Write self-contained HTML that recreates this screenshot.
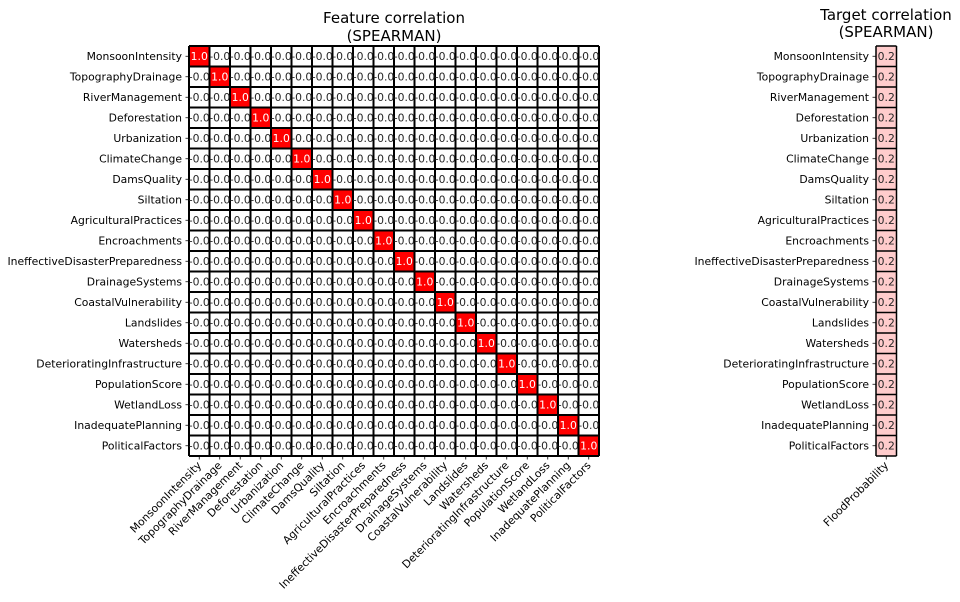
<!DOCTYPE html>
<html><head><meta charset="utf-8"><style>
html,body{margin:0;padding:0;background:#fff;}
svg{display:block;font-family:"DejaVu Sans","Liberation Sans",sans-serif;}
.c{font-size:10.8px;text-anchor:middle;fill:#262626;}
.l{font-size:10.8px;text-anchor:end;fill:#000;}
.t{font-size:15px;text-anchor:middle;fill:#000;}
</style></head><body>
<svg width="960" height="602" viewBox="0 0 960 602" xmlns="http://www.w3.org/2000/svg">
<text class="t" x="394" y="23">Feature correlation</text>
<text class="t" x="394" y="41">(SPEARMAN)</text>
<text class="t" x="886" y="20">Target correlation</text>
<text class="t" x="886" y="37">(SPEARMAN)</text>

<rect x="189" y="46" width="410" height="410" fill="#fefefe"/>
<g fill="#ff0000">
<rect x="189" y="46" width="20.5" height="20.5"/><rect x="209.5" y="66.5" width="20.5" height="20.5"/><rect x="230" y="87" width="20.5" height="20.5"/><rect x="250.5" y="107.5" width="20.5" height="20.5"/><rect x="271" y="128" width="20.5" height="20.5"/><rect x="291.5" y="148.5" width="20.5" height="20.5"/><rect x="312" y="169" width="20.5" height="20.5"/><rect x="332.5" y="189.5" width="20.5" height="20.5"/><rect x="353" y="210" width="20.5" height="20.5"/><rect x="373.5" y="230.5" width="20.5" height="20.5"/><rect x="394" y="251" width="20.5" height="20.5"/><rect x="414.5" y="271.5" width="20.5" height="20.5"/><rect x="435" y="292" width="20.5" height="20.5"/><rect x="455.5" y="312.5" width="20.5" height="20.5"/><rect x="476" y="333" width="20.5" height="20.5"/><rect x="496.5" y="353.5" width="20.5" height="20.5"/><rect x="517" y="374" width="20.5" height="20.5"/><rect x="537.5" y="394.5" width="20.5" height="20.5"/><rect x="558" y="415" width="20.5" height="20.5"/><rect x="578.5" y="435.5" width="20.5" height="20.5"/>
</g>
<g stroke="#000" stroke-width="2">
<path d="M189 46V456M209.5 46V456M230 46V456M250.5 46V456M271 46V456M291.5 46V456M312 46V456M332.5 46V456M353 46V456M373.5 46V456M394 46V456M414.5 46V456M435 46V456M455.5 46V456M476 46V456M496.5 46V456M517 46V456M537.5 46V456M558 46V456M578.5 46V456M599 46V456"/>
<path d="M189 46H599M189 66.5H599M189 87H599M189 107.5H599M189 128H599M189 148.5H599M189 169H599M189 189.5H599M189 210H599M189 230.5H599M189 251H599M189 271.5H599M189 292H599M189 312.5H599M189 333H599M189 353.5H599M189 374H599M189 394.5H599M189 415H599M189 435.5H599M189 456H599"/>
</g>
<g stroke="#000" stroke-width="0.8">
<path d="M185.5 56.25H189M185.5 76.75H189M185.5 97.25H189M185.5 117.75H189M185.5 138.25H189M185.5 158.75H189M185.5 179.25H189M185.5 199.75H189M185.5 220.25H189M185.5 240.75H189M185.5 261.25H189M185.5 281.75H189M185.5 302.25H189M185.5 322.75H189M185.5 343.25H189M185.5 363.75H189M185.5 384.25H189M185.5 404.75H189M185.5 425.25H189M185.5 445.75H189"/>
<path d="M199.25 456V459.5M219.75 456V459.5M240.25 456V459.5M260.75 456V459.5M281.25 456V459.5M301.75 456V459.5M322.25 456V459.5M342.75 456V459.5M363.25 456V459.5M383.75 456V459.5M404.25 456V459.5M424.75 456V459.5M445.25 456V459.5M465.75 456V459.5M486.25 456V459.5M506.75 456V459.5M527.25 456V459.5M547.75 456V459.5M568.25 456V459.5M588.75 456V459.5"/>
</g>

<g class="l">
<text x="182" y="60">MonsoonIntensity</text>
<text x="182" y="80.5">TopographyDrainage</text>
<text x="182" y="101">RiverManagement</text>
<text x="182" y="121.5">Deforestation</text>
<text x="182" y="142">Urbanization</text>
<text x="182" y="162.5">ClimateChange</text>
<text x="182" y="183">DamsQuality</text>
<text x="182" y="203.5">Siltation</text>
<text x="182" y="224">AgriculturalPractices</text>
<text x="182" y="244.5">Encroachments</text>
<text x="182" y="265">IneffectiveDisasterPreparedness</text>
<text x="182" y="285.5">DrainageSystems</text>
<text x="182" y="306">CoastalVulnerability</text>
<text x="182" y="326.5">Landslides</text>
<text x="182" y="347">Watersheds</text>
<text x="182" y="367.5">DeterioratingInfrastructure</text>
<text x="182" y="388">PopulationScore</text>
<text x="182" y="408.5">WetlandLoss</text>
<text x="182" y="429">InadequatePlanning</text>
<text x="182" y="449.5">PoliticalFactors</text>
</g>

<g class="l">
<text transform="translate(202,466) rotate(-45)">MonsoonIntensity</text>
<text transform="translate(222.5,466) rotate(-45)">TopographyDrainage</text>
<text transform="translate(243,466) rotate(-45)">RiverManagement</text>
<text transform="translate(263.5,466) rotate(-45)">Deforestation</text>
<text transform="translate(284,466) rotate(-45)">Urbanization</text>
<text transform="translate(304.5,466) rotate(-45)">ClimateChange</text>
<text transform="translate(325,466) rotate(-45)">DamsQuality</text>
<text transform="translate(345.5,466) rotate(-45)">Siltation</text>
<text transform="translate(366,466) rotate(-45)">AgriculturalPractices</text>
<text transform="translate(386.5,466) rotate(-45)">Encroachments</text>
<text transform="translate(407,466) rotate(-45)">IneffectiveDisasterPreparedness</text>
<text transform="translate(427.5,466) rotate(-45)">DrainageSystems</text>
<text transform="translate(448,466) rotate(-45)">CoastalVulnerability</text>
<text transform="translate(468.5,466) rotate(-45)">Landslides</text>
<text transform="translate(489,466) rotate(-45)">Watersheds</text>
<text transform="translate(509.5,466) rotate(-45)">DeterioratingInfrastructure</text>
<text transform="translate(530,466) rotate(-45)">PopulationScore</text>
<text transform="translate(550.5,466) rotate(-45)">WetlandLoss</text>
<text transform="translate(571,466) rotate(-45)">InadequatePlanning</text>
<text transform="translate(591.5,466) rotate(-45)">PoliticalFactors</text>
</g>

<g class="c">
<text y="60"><tspan x="199.25" fill="#fff">1.0</tspan><tspan x="219.75">-0.0</tspan><tspan x="240.25">-0.0</tspan><tspan x="260.75">-0.0</tspan><tspan x="281.25">-0.0</tspan><tspan x="301.75">-0.0</tspan><tspan x="322.25">-0.0</tspan><tspan x="342.75">-0.0</tspan><tspan x="363.25">-0.0</tspan><tspan x="383.75">-0.0</tspan><tspan x="404.25">-0.0</tspan><tspan x="424.75">-0.0</tspan><tspan x="445.25">-0.0</tspan><tspan x="465.75">-0.0</tspan><tspan x="486.25">-0.0</tspan><tspan x="506.75">-0.0</tspan><tspan x="527.25">-0.0</tspan><tspan x="547.75">-0.0</tspan><tspan x="568.25">-0.0</tspan><tspan x="588.75">-0.0</tspan></text>
<text y="80.5"><tspan x="199.25">-0.0</tspan><tspan x="219.75" fill="#fff">1.0</tspan><tspan x="240.25">-0.0</tspan><tspan x="260.75">-0.0</tspan><tspan x="281.25">-0.0</tspan><tspan x="301.75">-0.0</tspan><tspan x="322.25">-0.0</tspan><tspan x="342.75">-0.0</tspan><tspan x="363.25">-0.0</tspan><tspan x="383.75">-0.0</tspan><tspan x="404.25">-0.0</tspan><tspan x="424.75">-0.0</tspan><tspan x="445.25">-0.0</tspan><tspan x="465.75">-0.0</tspan><tspan x="486.25">-0.0</tspan><tspan x="506.75">-0.0</tspan><tspan x="527.25">-0.0</tspan><tspan x="547.75">-0.0</tspan><tspan x="568.25">-0.0</tspan><tspan x="588.75">-0.0</tspan></text>
<text y="101"><tspan x="199.25">-0.0</tspan><tspan x="219.75">-0.0</tspan><tspan x="240.25" fill="#fff">1.0</tspan><tspan x="260.75">-0.0</tspan><tspan x="281.25">-0.0</tspan><tspan x="301.75">-0.0</tspan><tspan x="322.25">-0.0</tspan><tspan x="342.75">-0.0</tspan><tspan x="363.25">-0.0</tspan><tspan x="383.75">-0.0</tspan><tspan x="404.25">-0.0</tspan><tspan x="424.75">-0.0</tspan><tspan x="445.25">-0.0</tspan><tspan x="465.75">-0.0</tspan><tspan x="486.25">-0.0</tspan><tspan x="506.75">-0.0</tspan><tspan x="527.25">-0.0</tspan><tspan x="547.75">-0.0</tspan><tspan x="568.25">-0.0</tspan><tspan x="588.75">-0.0</tspan></text>
<text y="121.5"><tspan x="199.25">-0.0</tspan><tspan x="219.75">-0.0</tspan><tspan x="240.25">-0.0</tspan><tspan x="260.75" fill="#fff">1.0</tspan><tspan x="281.25">-0.0</tspan><tspan x="301.75">-0.0</tspan><tspan x="322.25">-0.0</tspan><tspan x="342.75">-0.0</tspan><tspan x="363.25">-0.0</tspan><tspan x="383.75">-0.0</tspan><tspan x="404.25">-0.0</tspan><tspan x="424.75">-0.0</tspan><tspan x="445.25">-0.0</tspan><tspan x="465.75">-0.0</tspan><tspan x="486.25">-0.0</tspan><tspan x="506.75">-0.0</tspan><tspan x="527.25">-0.0</tspan><tspan x="547.75">-0.0</tspan><tspan x="568.25">-0.0</tspan><tspan x="588.75">-0.0</tspan></text>
<text y="142"><tspan x="199.25">-0.0</tspan><tspan x="219.75">-0.0</tspan><tspan x="240.25">-0.0</tspan><tspan x="260.75">-0.0</tspan><tspan x="281.25" fill="#fff">1.0</tspan><tspan x="301.75">-0.0</tspan><tspan x="322.25">-0.0</tspan><tspan x="342.75">-0.0</tspan><tspan x="363.25">-0.0</tspan><tspan x="383.75">-0.0</tspan><tspan x="404.25">-0.0</tspan><tspan x="424.75">-0.0</tspan><tspan x="445.25">-0.0</tspan><tspan x="465.75">-0.0</tspan><tspan x="486.25">-0.0</tspan><tspan x="506.75">-0.0</tspan><tspan x="527.25">-0.0</tspan><tspan x="547.75">-0.0</tspan><tspan x="568.25">-0.0</tspan><tspan x="588.75">-0.0</tspan></text>
<text y="162.5"><tspan x="199.25">-0.0</tspan><tspan x="219.75">-0.0</tspan><tspan x="240.25">-0.0</tspan><tspan x="260.75">-0.0</tspan><tspan x="281.25">-0.0</tspan><tspan x="301.75" fill="#fff">1.0</tspan><tspan x="322.25">-0.0</tspan><tspan x="342.75">-0.0</tspan><tspan x="363.25">-0.0</tspan><tspan x="383.75">-0.0</tspan><tspan x="404.25">-0.0</tspan><tspan x="424.75">-0.0</tspan><tspan x="445.25">-0.0</tspan><tspan x="465.75">-0.0</tspan><tspan x="486.25">-0.0</tspan><tspan x="506.75">-0.0</tspan><tspan x="527.25">-0.0</tspan><tspan x="547.75">-0.0</tspan><tspan x="568.25">-0.0</tspan><tspan x="588.75">-0.0</tspan></text>
<text y="183"><tspan x="199.25">-0.0</tspan><tspan x="219.75">-0.0</tspan><tspan x="240.25">-0.0</tspan><tspan x="260.75">-0.0</tspan><tspan x="281.25">-0.0</tspan><tspan x="301.75">-0.0</tspan><tspan x="322.25" fill="#fff">1.0</tspan><tspan x="342.75">-0.0</tspan><tspan x="363.25">-0.0</tspan><tspan x="383.75">-0.0</tspan><tspan x="404.25">-0.0</tspan><tspan x="424.75">-0.0</tspan><tspan x="445.25">-0.0</tspan><tspan x="465.75">-0.0</tspan><tspan x="486.25">-0.0</tspan><tspan x="506.75">-0.0</tspan><tspan x="527.25">-0.0</tspan><tspan x="547.75">-0.0</tspan><tspan x="568.25">-0.0</tspan><tspan x="588.75">-0.0</tspan></text>
<text y="203.5"><tspan x="199.25">-0.0</tspan><tspan x="219.75">-0.0</tspan><tspan x="240.25">-0.0</tspan><tspan x="260.75">-0.0</tspan><tspan x="281.25">-0.0</tspan><tspan x="301.75">-0.0</tspan><tspan x="322.25">-0.0</tspan><tspan x="342.75" fill="#fff">1.0</tspan><tspan x="363.25">-0.0</tspan><tspan x="383.75">-0.0</tspan><tspan x="404.25">-0.0</tspan><tspan x="424.75">-0.0</tspan><tspan x="445.25">-0.0</tspan><tspan x="465.75">-0.0</tspan><tspan x="486.25">-0.0</tspan><tspan x="506.75">-0.0</tspan><tspan x="527.25">-0.0</tspan><tspan x="547.75">-0.0</tspan><tspan x="568.25">-0.0</tspan><tspan x="588.75">-0.0</tspan></text>
<text y="224"><tspan x="199.25">-0.0</tspan><tspan x="219.75">-0.0</tspan><tspan x="240.25">-0.0</tspan><tspan x="260.75">-0.0</tspan><tspan x="281.25">-0.0</tspan><tspan x="301.75">-0.0</tspan><tspan x="322.25">-0.0</tspan><tspan x="342.75">-0.0</tspan><tspan x="363.25" fill="#fff">1.0</tspan><tspan x="383.75">-0.0</tspan><tspan x="404.25">-0.0</tspan><tspan x="424.75">-0.0</tspan><tspan x="445.25">-0.0</tspan><tspan x="465.75">-0.0</tspan><tspan x="486.25">-0.0</tspan><tspan x="506.75">-0.0</tspan><tspan x="527.25">-0.0</tspan><tspan x="547.75">-0.0</tspan><tspan x="568.25">-0.0</tspan><tspan x="588.75">-0.0</tspan></text>
<text y="244.5"><tspan x="199.25">-0.0</tspan><tspan x="219.75">-0.0</tspan><tspan x="240.25">-0.0</tspan><tspan x="260.75">-0.0</tspan><tspan x="281.25">-0.0</tspan><tspan x="301.75">-0.0</tspan><tspan x="322.25">-0.0</tspan><tspan x="342.75">-0.0</tspan><tspan x="363.25">-0.0</tspan><tspan x="383.75" fill="#fff">1.0</tspan><tspan x="404.25">-0.0</tspan><tspan x="424.75">-0.0</tspan><tspan x="445.25">-0.0</tspan><tspan x="465.75">-0.0</tspan><tspan x="486.25">-0.0</tspan><tspan x="506.75">-0.0</tspan><tspan x="527.25">-0.0</tspan><tspan x="547.75">-0.0</tspan><tspan x="568.25">-0.0</tspan><tspan x="588.75">-0.0</tspan></text>
<text y="265"><tspan x="199.25">-0.0</tspan><tspan x="219.75">-0.0</tspan><tspan x="240.25">-0.0</tspan><tspan x="260.75">-0.0</tspan><tspan x="281.25">-0.0</tspan><tspan x="301.75">-0.0</tspan><tspan x="322.25">-0.0</tspan><tspan x="342.75">-0.0</tspan><tspan x="363.25">-0.0</tspan><tspan x="383.75">-0.0</tspan><tspan x="404.25" fill="#fff">1.0</tspan><tspan x="424.75">-0.0</tspan><tspan x="445.25">-0.0</tspan><tspan x="465.75">-0.0</tspan><tspan x="486.25">-0.0</tspan><tspan x="506.75">-0.0</tspan><tspan x="527.25">-0.0</tspan><tspan x="547.75">-0.0</tspan><tspan x="568.25">-0.0</tspan><tspan x="588.75">-0.0</tspan></text>
<text y="285.5"><tspan x="199.25">-0.0</tspan><tspan x="219.75">-0.0</tspan><tspan x="240.25">-0.0</tspan><tspan x="260.75">-0.0</tspan><tspan x="281.25">-0.0</tspan><tspan x="301.75">-0.0</tspan><tspan x="322.25">-0.0</tspan><tspan x="342.75">-0.0</tspan><tspan x="363.25">-0.0</tspan><tspan x="383.75">-0.0</tspan><tspan x="404.25">-0.0</tspan><tspan x="424.75" fill="#fff">1.0</tspan><tspan x="445.25">-0.0</tspan><tspan x="465.75">-0.0</tspan><tspan x="486.25">-0.0</tspan><tspan x="506.75">-0.0</tspan><tspan x="527.25">-0.0</tspan><tspan x="547.75">-0.0</tspan><tspan x="568.25">-0.0</tspan><tspan x="588.75">-0.0</tspan></text>
<text y="306"><tspan x="199.25">-0.0</tspan><tspan x="219.75">-0.0</tspan><tspan x="240.25">-0.0</tspan><tspan x="260.75">-0.0</tspan><tspan x="281.25">-0.0</tspan><tspan x="301.75">-0.0</tspan><tspan x="322.25">-0.0</tspan><tspan x="342.75">-0.0</tspan><tspan x="363.25">-0.0</tspan><tspan x="383.75">-0.0</tspan><tspan x="404.25">-0.0</tspan><tspan x="424.75">-0.0</tspan><tspan x="445.25" fill="#fff">1.0</tspan><tspan x="465.75">-0.0</tspan><tspan x="486.25">-0.0</tspan><tspan x="506.75">-0.0</tspan><tspan x="527.25">-0.0</tspan><tspan x="547.75">-0.0</tspan><tspan x="568.25">-0.0</tspan><tspan x="588.75">-0.0</tspan></text>
<text y="326.5"><tspan x="199.25">-0.0</tspan><tspan x="219.75">-0.0</tspan><tspan x="240.25">-0.0</tspan><tspan x="260.75">-0.0</tspan><tspan x="281.25">-0.0</tspan><tspan x="301.75">-0.0</tspan><tspan x="322.25">-0.0</tspan><tspan x="342.75">-0.0</tspan><tspan x="363.25">-0.0</tspan><tspan x="383.75">-0.0</tspan><tspan x="404.25">-0.0</tspan><tspan x="424.75">-0.0</tspan><tspan x="445.25">-0.0</tspan><tspan x="465.75" fill="#fff">1.0</tspan><tspan x="486.25">-0.0</tspan><tspan x="506.75">-0.0</tspan><tspan x="527.25">-0.0</tspan><tspan x="547.75">-0.0</tspan><tspan x="568.25">-0.0</tspan><tspan x="588.75">-0.0</tspan></text>
<text y="347"><tspan x="199.25">-0.0</tspan><tspan x="219.75">-0.0</tspan><tspan x="240.25">-0.0</tspan><tspan x="260.75">-0.0</tspan><tspan x="281.25">-0.0</tspan><tspan x="301.75">-0.0</tspan><tspan x="322.25">-0.0</tspan><tspan x="342.75">-0.0</tspan><tspan x="363.25">-0.0</tspan><tspan x="383.75">-0.0</tspan><tspan x="404.25">-0.0</tspan><tspan x="424.75">-0.0</tspan><tspan x="445.25">-0.0</tspan><tspan x="465.75">-0.0</tspan><tspan x="486.25" fill="#fff">1.0</tspan><tspan x="506.75">-0.0</tspan><tspan x="527.25">-0.0</tspan><tspan x="547.75">-0.0</tspan><tspan x="568.25">-0.0</tspan><tspan x="588.75">-0.0</tspan></text>
<text y="367.5"><tspan x="199.25">-0.0</tspan><tspan x="219.75">-0.0</tspan><tspan x="240.25">-0.0</tspan><tspan x="260.75">-0.0</tspan><tspan x="281.25">-0.0</tspan><tspan x="301.75">-0.0</tspan><tspan x="322.25">-0.0</tspan><tspan x="342.75">-0.0</tspan><tspan x="363.25">-0.0</tspan><tspan x="383.75">-0.0</tspan><tspan x="404.25">-0.0</tspan><tspan x="424.75">-0.0</tspan><tspan x="445.25">-0.0</tspan><tspan x="465.75">-0.0</tspan><tspan x="486.25">-0.0</tspan><tspan x="506.75" fill="#fff">1.0</tspan><tspan x="527.25">-0.0</tspan><tspan x="547.75">-0.0</tspan><tspan x="568.25">-0.0</tspan><tspan x="588.75">-0.0</tspan></text>
<text y="388"><tspan x="199.25">-0.0</tspan><tspan x="219.75">-0.0</tspan><tspan x="240.25">-0.0</tspan><tspan x="260.75">-0.0</tspan><tspan x="281.25">-0.0</tspan><tspan x="301.75">-0.0</tspan><tspan x="322.25">-0.0</tspan><tspan x="342.75">-0.0</tspan><tspan x="363.25">-0.0</tspan><tspan x="383.75">-0.0</tspan><tspan x="404.25">-0.0</tspan><tspan x="424.75">-0.0</tspan><tspan x="445.25">-0.0</tspan><tspan x="465.75">-0.0</tspan><tspan x="486.25">-0.0</tspan><tspan x="506.75">-0.0</tspan><tspan x="527.25" fill="#fff">1.0</tspan><tspan x="547.75">-0.0</tspan><tspan x="568.25">-0.0</tspan><tspan x="588.75">-0.0</tspan></text>
<text y="408.5"><tspan x="199.25">-0.0</tspan><tspan x="219.75">-0.0</tspan><tspan x="240.25">-0.0</tspan><tspan x="260.75">-0.0</tspan><tspan x="281.25">-0.0</tspan><tspan x="301.75">-0.0</tspan><tspan x="322.25">-0.0</tspan><tspan x="342.75">-0.0</tspan><tspan x="363.25">-0.0</tspan><tspan x="383.75">-0.0</tspan><tspan x="404.25">-0.0</tspan><tspan x="424.75">-0.0</tspan><tspan x="445.25">-0.0</tspan><tspan x="465.75">-0.0</tspan><tspan x="486.25">-0.0</tspan><tspan x="506.75">-0.0</tspan><tspan x="527.25">-0.0</tspan><tspan x="547.75" fill="#fff">1.0</tspan><tspan x="568.25">-0.0</tspan><tspan x="588.75">-0.0</tspan></text>
<text y="429"><tspan x="199.25">-0.0</tspan><tspan x="219.75">-0.0</tspan><tspan x="240.25">-0.0</tspan><tspan x="260.75">-0.0</tspan><tspan x="281.25">-0.0</tspan><tspan x="301.75">-0.0</tspan><tspan x="322.25">-0.0</tspan><tspan x="342.75">-0.0</tspan><tspan x="363.25">-0.0</tspan><tspan x="383.75">-0.0</tspan><tspan x="404.25">-0.0</tspan><tspan x="424.75">-0.0</tspan><tspan x="445.25">-0.0</tspan><tspan x="465.75">-0.0</tspan><tspan x="486.25">-0.0</tspan><tspan x="506.75">-0.0</tspan><tspan x="527.25">-0.0</tspan><tspan x="547.75">-0.0</tspan><tspan x="568.25" fill="#fff">1.0</tspan><tspan x="588.75">-0.0</tspan></text>
<text y="449.5"><tspan x="199.25">-0.0</tspan><tspan x="219.75">-0.0</tspan><tspan x="240.25">-0.0</tspan><tspan x="260.75">-0.0</tspan><tspan x="281.25">-0.0</tspan><tspan x="301.75">-0.0</tspan><tspan x="322.25">-0.0</tspan><tspan x="342.75">-0.0</tspan><tspan x="363.25">-0.0</tspan><tspan x="383.75">-0.0</tspan><tspan x="404.25">-0.0</tspan><tspan x="424.75">-0.0</tspan><tspan x="445.25">-0.0</tspan><tspan x="465.75">-0.0</tspan><tspan x="486.25">-0.0</tspan><tspan x="506.75">-0.0</tspan><tspan x="527.25">-0.0</tspan><tspan x="547.75">-0.0</tspan><tspan x="568.25">-0.0</tspan><tspan x="588.75" fill="#fff">1.0</tspan></text>
</g>

<!-- Target -->
<rect x="876" y="46" width="20.5" height="410" fill="#ffcccc"/>
<g stroke="#000" stroke-width="1.5">
<path d="M876 46V456M896.5 46V456"/>
<path d="M876 46H896.5M876 66.5H896.5M876 87H896.5M876 107.5H896.5M876 128H896.5M876 148.5H896.5M876 169H896.5M876 189.5H896.5M876 210H896.5M876 230.5H896.5M876 251H896.5M876 271.5H896.5M876 292H896.5M876 312.5H896.5M876 333H896.5M876 353.5H896.5M876 374H896.5M876 394.5H896.5M876 415H896.5M876 435.5H896.5M876 456H896.5"/>
</g>
<g stroke="#000" stroke-width="0.8">
<path d="M872.5 56.25H876M872.5 76.75H876M872.5 97.25H876M872.5 117.75H876M872.5 138.25H876M872.5 158.75H876M872.5 179.25H876M872.5 199.75H876M872.5 220.25H876M872.5 240.75H876M872.5 261.25H876M872.5 281.75H876M872.5 302.25H876M872.5 322.75H876M872.5 343.25H876M872.5 363.75H876M872.5 384.25H876M872.5 404.75H876M872.5 425.25H876M872.5 445.75H876M886.25 456V459.5"/>
</g>
<g class="l">
<text x="869" y="60">MonsoonIntensity</text>
<text x="869" y="80.5">TopographyDrainage</text>
<text x="869" y="101">RiverManagement</text>
<text x="869" y="121.5">Deforestation</text>
<text x="869" y="142">Urbanization</text>
<text x="869" y="162.5">ClimateChange</text>
<text x="869" y="183">DamsQuality</text>
<text x="869" y="203.5">Siltation</text>
<text x="869" y="224">AgriculturalPractices</text>
<text x="869" y="244.5">Encroachments</text>
<text x="869" y="265">IneffectiveDisasterPreparedness</text>
<text x="869" y="285.5">DrainageSystems</text>
<text x="869" y="306">CoastalVulnerability</text>
<text x="869" y="326.5">Landslides</text>
<text x="869" y="347">Watersheds</text>
<text x="869" y="367.5">DeterioratingInfrastructure</text>
<text x="869" y="388">PopulationScore</text>
<text x="869" y="408.5">WetlandLoss</text>
<text x="869" y="429">InadequatePlanning</text>
<text x="869" y="449.5">PoliticalFactors</text>
<text transform="translate(889,466) rotate(-45)">FloodProbability</text>
</g>
<g class="c">
<text x="886.25" y="60">0.2</text><text x="886.25" y="80.5">0.2</text><text x="886.25" y="101">0.2</text><text x="886.25" y="121.5">0.2</text><text x="886.25" y="142">0.2</text><text x="886.25" y="162.5">0.2</text><text x="886.25" y="183">0.2</text><text x="886.25" y="203.5">0.2</text><text x="886.25" y="224">0.2</text><text x="886.25" y="244.5">0.2</text><text x="886.25" y="265">0.2</text><text x="886.25" y="285.5">0.2</text><text x="886.25" y="306">0.2</text><text x="886.25" y="326.5">0.2</text><text x="886.25" y="347">0.2</text><text x="886.25" y="367.5">0.2</text><text x="886.25" y="388">0.2</text><text x="886.25" y="408.5">0.2</text><text x="886.25" y="429">0.2</text><text x="886.25" y="449.5">0.2</text>
</g>
</svg>
</body></html>
